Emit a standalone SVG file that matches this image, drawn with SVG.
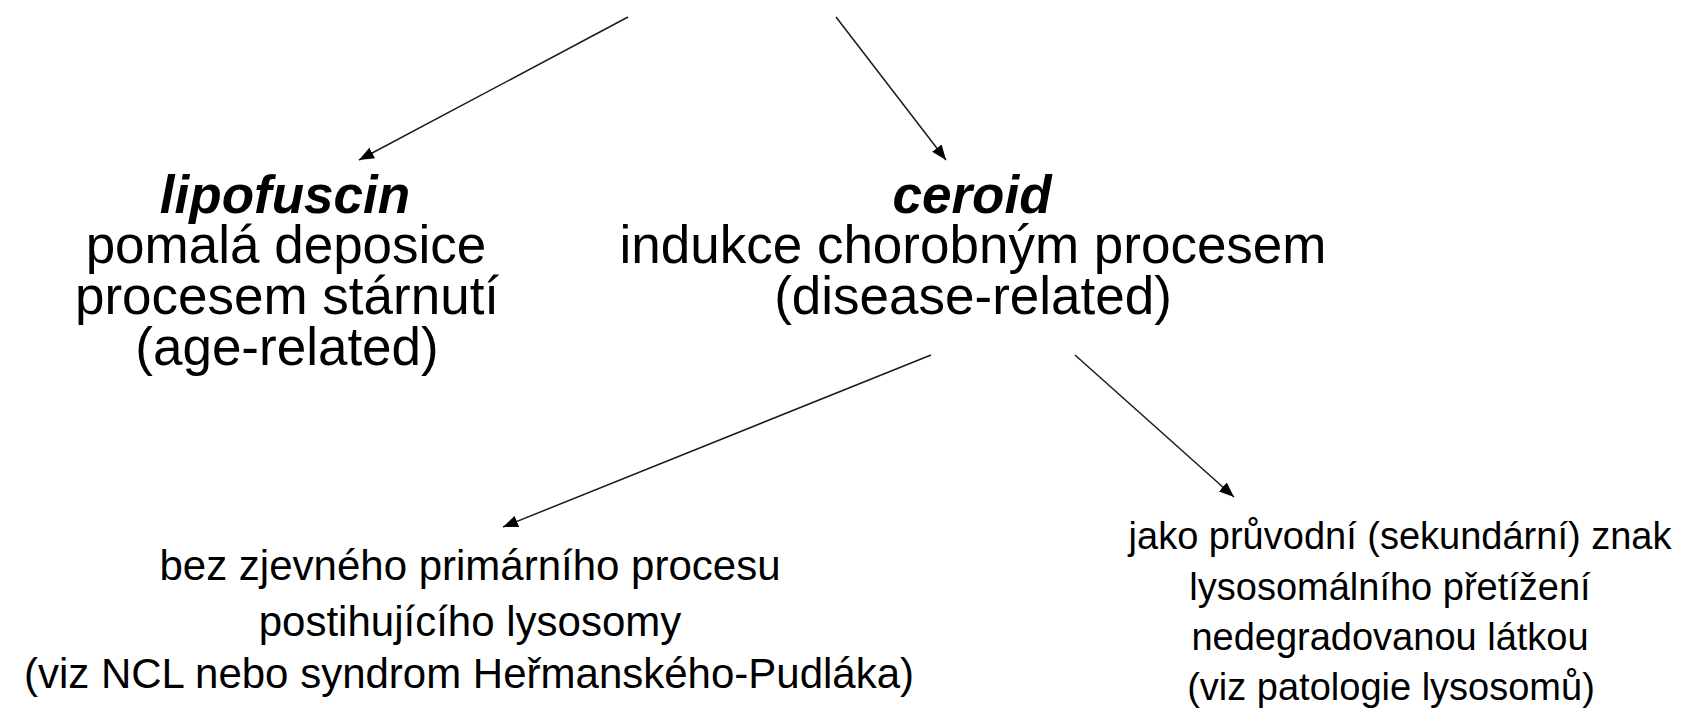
<svg xmlns="http://www.w3.org/2000/svg" width="1682" height="710" viewBox="0 0 1682 710">
<style>
  text { font-family: "Liberation Sans", Arial, sans-serif; fill: #000; text-anchor: middle; }
  .big { font-size: 53px; }
  .head { font-size: 53px; font-weight: bold; font-style: italic; }
  .small { font-size: 42px; }
  .small2 { font-size: 38px; }
  .conn line { stroke: #1a1a1a; stroke-width: 1.5; marker-end: url(#arr); }
</style>
<defs>
  <marker id="arr" markerUnits="userSpaceOnUse" markerWidth="16" markerHeight="12" refX="15" refY="6" orient="auto">
    <path d="M0,0 L15,6 L0,12 Z" fill="#000"/>
  </marker>
</defs>
<rect width="1682" height="710" fill="#fff"/>
<g id="connectors" class="conn">
  <line x1="628" y1="17" x2="359" y2="160"/>
  <line x1="836" y1="17" x2="946" y2="160"/>
  <line x1="931" y1="355" x2="503" y2="527"/>
  <line x1="1075" y1="355" x2="1234" y2="497"/>
</g>
<g id="lipofuscin">
  <text class="head" x="285" y="213">lipofuscin</text>
  <text class="big" x="286" y="263">pomalá deposice</text>
  <text class="big" x="287" y="314">procesem stárnutí</text>
  <text class="big" x="287" y="365">(age-related)</text>
</g>
<g id="ceroid">
  <text class="head" x="972" y="213">ceroid</text>
  <text class="big" x="973" y="263">indukce chorobným procesem</text>
  <text class="big" x="973" y="314">(disease-related)</text>
</g>
<g id="primary">
  <text class="small" x="470" y="580">bez zjevného primárního procesu</text>
  <text class="small" x="470" y="636">postihujícího lysosomy</text>
  <text class="small" x="469" y="688">(viz NCL nebo syndrom Heřmanského-Pudláka)</text>
</g>
<g id="secondary">
  <text class="small2" x="1400" y="549">jako průvodní (sekundární) znak</text>
  <text class="small2" x="1390" y="600">lysosomálního přetížení</text>
  <text class="small2" x="1390" y="650">nedegradovanou látkou</text>
  <text class="small2" x="1391" y="700">(viz patologie lysosomů)</text>
</g>
</svg>
